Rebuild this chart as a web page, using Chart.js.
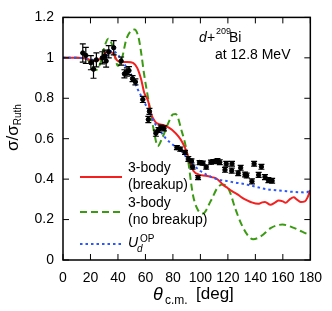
<!DOCTYPE html>
<html>
<head>
<meta charset="utf-8">
<script src="https://cdn.jsdelivr.net/npm/chart.js@4/dist/chart.umd.min.js"></script>
<style>
  html, body { margin: 0; padding: 0; background: #fff; }
  #wrap { width: 332px; height: 311px; }
</style>
</head>
<body>
<div id="wrap"><canvas id="chart" width="332" height="311"></canvas></div>
<script>
// 3-body (breakup)
const redDeg = [0, 10, 17, 20, 24, 28, 31, 34, 37, 39, 42, 47, 51, 54, 57, 59, 62, 64, 67, 70, 73.5, 77, 79.5, 84, 87, 90, 92, 95, 99, 104, 108, 111, 114, 116, 120, 123, 127, 130, 134, 137, 142, 145, 147, 151, 154, 157, 160, 162, 165, 168, 170, 173, 176, 178, 180];
const redVal = [1.0, 1.0, 0.997, 0.988, 0.984, 1.0, 1.025, 1.03, 1.016, 0.99, 0.98, 0.98, 0.975, 0.95, 0.89, 0.83, 0.785, 0.725, 0.685, 0.672, 0.667, 0.655, 0.643, 0.611, 0.58, 0.535, 0.49, 0.44, 0.422, 0.417, 0.41, 0.405, 0.39, 0.375, 0.355, 0.341, 0.325, 0.31, 0.295, 0.286, 0.278, 0.285, 0.287, 0.273, 0.283, 0.294, 0.29, 0.283, 0.3, 0.31, 0.3, 0.287, 0.29, 0.31, 0.346];

// 3-body (no breakup)
const greenDeg = [0, 10, 17, 20, 24, 27, 30, 33, 36, 40, 43, 46, 49, 52, 55, 57, 59, 63, 66, 69, 72, 77, 80, 82, 86.5, 90, 94.7, 98.3, 101.8, 107.7, 112.4, 116, 120.7, 125.4, 130, 134.8, 138.4, 144.4, 151.4, 159.7, 168, 174, 178.6, 180];
const greenVal = [1.0, 1.0, 0.995, 0.975, 0.94, 0.97, 1.05, 1.095, 1.06, 0.96, 1.0, 1.09, 1.13, 1.14, 1.1, 1.02, 0.92, 0.76, 0.645, 0.563, 0.6, 0.683, 0.72, 0.722, 0.635, 0.54, 0.318, 0.246, 0.23, 0.294, 0.357, 0.373, 0.349, 0.254, 0.175, 0.119, 0.103, 0.119, 0.159, 0.175, 0.159, 0.14, 0.127, 0.125];

// U_d^OP
const blueDeg = [0, 10, 18, 22, 26, 30, 33, 36, 40, 44, 48, 51, 54, 57, 60, 63, 66, 70, 75, 80, 85, 88, 90, 95, 100, 105, 110, 115, 120, 125, 130, 137, 143, 149, 155, 161, 167, 173, 177, 180];
const blueVal = [1.0, 1.0, 0.995, 0.99, 0.99, 1.0, 1.02, 1.035, 1.015, 0.975, 0.935, 0.9, 0.85, 0.81, 0.77, 0.73, 0.685, 0.645, 0.6, 0.57, 0.545, 0.525, 0.505, 0.47, 0.44, 0.42, 0.405, 0.395, 0.39, 0.383, 0.378, 0.368, 0.358, 0.349, 0.345, 0.341, 0.337, 0.335, 0.334, 0.346];

// experimental data
const expDeg = [14.4, 16.6, 20.3, 22.2, 24.3, 28.6, 30.5, 31.4, 33.3, 36.9, 42.3, 44.7, 46.5, 48, 50.6, 52.7, 58.1, 62.9, 62.1, 67.6, 69.5, 71.1, 73.5, 82.9, 85.3, 88.8, 91.2, 93.5, 94.3, 98.3, 99.4, 101.8, 104.2, 107.7, 109.5, 112.4, 114.1, 117.9, 118.8, 122.8, 123, 127.5, 129.3, 132.5, 133.7, 137.5, 139.1, 142.4, 144.4, 147, 149.5, 152.2];
const expVal = [1.024, 1.012, 0.976, 0.944, 0.99, 1.0, 1.008, 0.984, 1.03, 1.05, 0.984, 0.921, 0.93, 0.937, 0.897, 0.881, 0.794, 0.735, 0.695, 0.627, 0.643, 0.655, 0.651, 0.556, 0.548, 0.532, 0.5, 0.49, 0.46, 0.408, 0.482, 0.479, 0.46, 0.484, 0.487, 0.49, 0.484, 0.446, 0.476, 0.442, 0.476, 0.429, 0.456, 0.423, 0.418, 0.389, 0.476, 0.421, 0.461, 0.41, 0.395, 0.392];
const expErr = [0.045, 0.04, 0.035, 0.045, 0.035, 0.03, 0.03, 0.03, 0.03, 0.035, 0.02, 0.02, 0.02, 0.02, 0.015, 0.015, 0.015, 0.015, 0.015, 0.015, 0.012, 0.012, 0.012, 0.01, 0.01, 0.01, 0.012, 0.01, 0.01, 0.01, 0.01, 0.01, 0.01, 0.01, 0.01, 0.012, 0.012, 0.012, 0.012, 0.012, 0.012, 0.012, 0.012, 0.012, 0.012, 0.012, 0.012, 0.012, 0.012, 0.012, 0.012, 0.012];

const xTicks = [0, 20, 40, 60, 80, 100, 120, 140, 160, 180];
const yTicks = [0, 0.2, 0.4, 0.6, 0.8, 1.0, 1.2];

const RED = "#f41f1f";
const GREEN = "#3a9b12";
const BLUE = "#2b57ff";
const FONT = "'Liberation Sans', Arial, Helvetica, sans-serif";

const toXY = (xs, ys) => xs.map((x, i) => ({ x: x, y: ys[i] }));

// axes box, inward ticks, error bars, titles, legend, label
const decor = {
  id: "decor",
  afterDatasetsDraw(chart) {
    const ctx = chart.ctx;
    const xs = chart.scales.x, ys = chart.scales.y;
    const a = chart.chartArea;
    ctx.save();

    // error bars
    ctx.strokeStyle = "#000";
    ctx.lineWidth = 1.2;
    expDeg.forEach((d, i) => {
      const px = xs.getPixelForValue(d);
      const top = ys.getPixelForValue(expVal[i] + expErr[i]);
      const bot = ys.getPixelForValue(expVal[i] - expErr[i]);
      ctx.beginPath();
      ctx.moveTo(px, top); ctx.lineTo(px, bot);
      ctx.moveTo(px - 3, top); ctx.lineTo(px + 3, top);
      ctx.moveTo(px - 3, bot); ctx.lineTo(px + 3, bot);
      ctx.stroke();
    });

    // box
    ctx.lineWidth = 1.5;
    ctx.strokeRect(a.left, a.top, a.right - a.left, a.bottom - a.top);

    // inward ticks
    ctx.lineWidth = 1;
    ctx.beginPath();
    xTicks.forEach((t) => {
      const px = xs.getPixelForValue(t);
      ctx.moveTo(px, a.bottom); ctx.lineTo(px, a.bottom - 6);
      ctx.moveTo(px, a.top); ctx.lineTo(px, a.top + 6);
    });
    yTicks.forEach((t) => {
      const py = ys.getPixelForValue(t);
      ctx.moveTo(a.left, py); ctx.lineTo(a.left + 6, py);
      ctx.moveTo(a.right, py); ctx.lineTo(a.right - 6, py);
    });
    ctx.stroke();

    ctx.fillStyle = "#000";
    ctx.textBaseline = "alphabetic";
    ctx.textAlign = "left";

    // x title
    ctx.font = "italic 18px " + FONT;
    ctx.fillText("θ", 153, 300);
    ctx.font = "12px " + FONT;
    ctx.fillText("c.m.", 165, 304);
    ctx.font = "17px " + FONT;
    ctx.fillText("[deg]", 196, 299);

    // y title
    ctx.save();
    ctx.translate(18, 151);
    ctx.rotate(-Math.PI / 2);
    ctx.font = "17px " + FONT;
    ctx.fillText("σ/σ", 0, 0);
    const w = ctx.measureText("σ/σ").width;
    ctx.font = "10px " + FONT;
    ctx.translate(0, 3);
    ctx.fillText("Ruth", w, 0);
    ctx.restore();

    // reaction label
    ctx.font = "italic 14px " + FONT;
    ctx.fillText("d", 199, 42);
    ctx.font = "14px " + FONT;
    ctx.fillText("+", 207, 42);
    ctx.font = "9px " + FONT;
    ctx.fillText("209", 216, 34);
    ctx.font = "14px " + FONT;
    ctx.fillText("Bi", 229, 42);
    ctx.fillText("at 12.8 MeV", 215, 59);

    // legend
    const items = [
      { color: RED, dash: [], y: 177, lines: ["3-body", "(breakup)"] },
      { color: GREEN, dash: [7, 4], y: 212, lines: ["3-body", "(no breakup)"] },
      { color: BLUE, dash: [2.5, 3], y: 244, lines: null },
    ];
    items.forEach((it) => {
      ctx.save();
      ctx.strokeStyle = it.color;
      ctx.lineWidth = 2;
      ctx.setLineDash(it.dash);
      ctx.beginPath();
      ctx.moveTo(80, it.y); ctx.lineTo(122, it.y);
      ctx.stroke();
      ctx.restore();
      if (it.lines) {
        ctx.font = "14px " + FONT;
        ctx.fillText(it.lines[0], 128, it.y - 5);
        ctx.fillText(it.lines[1], 128, it.y + 12);
      }
    });
    ctx.font = "italic 14px " + FONT;
    ctx.fillText("U", 128, 247);
    ctx.font = "italic 10px " + FONT;
    ctx.fillText("d", 137, 252);
    ctx.font = "10px " + FONT;
    ctx.fillText("OP", 140, 242);

    ctx.restore();
  },
};

new Chart(document.getElementById("chart"), {
  type: "scatter",
  data: {
    datasets: [
      {
        label: "data",
        data: toXY(expDeg, expVal),
        backgroundColor: "#000",
        borderColor: "#000",
        pointRadius: 2.2,
        showLine: false,
      },
      {
        label: "U_d^OP",
        data: toXY(blueDeg, blueVal),
        borderColor: BLUE,
        borderWidth: 2,
        borderDash: [2.5, 3],
        pointRadius: 0,
        showLine: true,
        cubicInterpolationMode: "monotone",
      },
      {
        label: "3-body (breakup)",
        data: toXY(redDeg, redVal),
        borderColor: RED,
        borderWidth: 2,
        pointRadius: 0,
        showLine: true,
        cubicInterpolationMode: "monotone",
      },
      {
        label: "3-body (no breakup)",
        data: toXY(greenDeg, greenVal),
        borderColor: GREEN,
        borderWidth: 2,
        borderDash: [7, 4],
        pointRadius: 0,
        showLine: true,
        cubicInterpolationMode: "monotone",
      },
    ],
  },
  options: {
    responsive: false,
    animation: false,
    layout: { padding: { top: 8, right: 15, left: 0, bottom: 0 } },
    plugins: { legend: { display: false }, tooltip: { enabled: false } },
    scales: {
      x: {
        type: "linear",
        min: 0,
        max: 180,
        afterFit: (s) => { s.height = 51; },
        afterBuildTicks: (s) => { s.ticks = xTicks.map((v) => ({ value: v })); },
        ticks: { color: "#000", font: { size: 14, family: FONT }, padding: 10, maxRotation: 0 },
        grid: { display: false, drawTicks: false },
        border: { display: false },
      },
      y: {
        min: 0,
        max: 1.2,
        afterFit: (s) => { s.width = 63; },
        afterBuildTicks: (s) => { s.ticks = yTicks.map((v) => ({ value: v })); },
        ticks: {
          color: "#000",
          font: { size: 14, family: FONT },
          padding: 9,
          callback: (v) => String(+v.toFixed(1)),
        },
        grid: { display: false, drawTicks: false },
        border: { display: false },
      },
    },
  },
  plugins: [decor],
});
</script>
</body>
</html>
